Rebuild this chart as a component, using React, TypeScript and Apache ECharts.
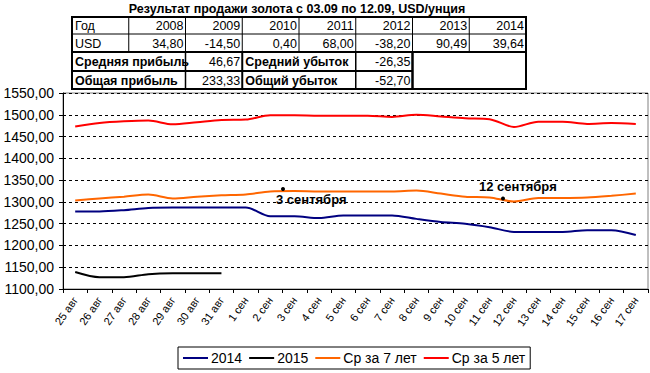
import React, { useEffect, useRef } from "react";
import * as echarts from "echarts";

const categories = [
  "25 авг", "26 авг", "27 авг", "28 авг", "29 авг", "30 авг", "31 авг",
  "1 сен", "2 сен", "3 сен", "4 сен", "5 сен", "6 сен", "7 сен", "8 сен",
  "9 сен", "10 сен", "11 сен", "12 сен", "13 сен", "14 сен", "15 сен", "16 сен", "17 сен",
];
const series2014 = [1278, 1278, 1281, 1286, 1287, 1287, 1287, 1287, 1267, 1267, 1263, 1269, 1269, 1269, 1261, 1254, 1250, 1242, 1231, 1231, 1231, 1235, 1235, 1224];
const series2015 = [1139, 1127, 1127, 1134, 1136, 1136, 1136];
const avg7 = [1303, 1308, 1312, 1317, 1308, 1312, 1315, 1317, 1324, 1325, 1324, 1324, 1324, 1324, 1326, 1319, 1312, 1310, 1301, 1309, 1309, 1310, 1314, 1319];
const avg5 = [1473, 1481, 1485, 1487, 1478, 1483, 1488, 1489, 1499, 1499, 1498, 1498, 1498, 1495, 1500, 1496, 1492, 1490, 1472, 1484, 1484, 1479, 1481, 1479];

const seriesNames = ["2014", "2015", "Ср за 7 лет", "Ср за 5 лет"];
const seriesColors = ["#000080", "#000000", "#FF6600", "#FF0000"];

const titleText = "Результат продажи золота с 03.09 по 12.09, USD/унция";
const tableYears = ["2008", "2009", "2010", "2011", "2012", "2013", "2014"];
const tableUsd = [34.8, -14.5, 0.4, 68.0, -38.2, 90.49, 39.64];
const profitLabels = ["Средняя прибыль", "Общая прибыль"];
const profitValues = [46.67, 233.33];
const lossLabels = ["Средний убыток", "Общий убыток"];
const lossValues = [-26.35, -52.7];
const annotations = [
  { text: "3 сентября", dot: [283, 189], label: [276, 199.5] },
  { text: "12 сентября", dot: [503, 198.5], label: [479, 186.5] },
];

const FONT = "'Liberation Sans', Arial, sans-serif";
const fmt = (v: number) => v.toFixed(2).replace(".", ",");

function buildTable(): any[] {
  const X0 = 72;
  const CW = 56.75;
  const rows = [17, 34, 52, 71, 89];
  const els: any[] = [];
  const line = (x1: number, y1: number, x2: number, y2: number, w: number) =>
    els.push({ type: "line", shape: { x1, y1, x2, y2 }, style: { stroke: "#000", lineWidth: w } });
  const txt = (s: string, x: number, y: number, align: string, bold: boolean) =>
    els.push({
      type: "text", x, y,
      style: { text: s, fill: "#000", font: `${bold ? "bold " : ""}12.5px ${FONT}`, align, verticalAlign: "middle" },
    });
  // rows 1-2
  els.push({ type: "rect", shape: { x: X0, y: rows[0], width: 8 * CW, height: rows[2] - rows[0] }, style: { fill: "none", stroke: "#000", lineWidth: 2 } });
  line(X0, rows[1], X0 + 8 * CW, rows[1], 1);
  for (let k = 1; k < 8; k++) line(X0 + k * CW, rows[0], X0 + k * CW, rows[2], 1);
  // rows 3-4
  els.push({ type: "rect", shape: { x: X0, y: rows[2], width: 6 * CW, height: rows[4] - rows[2] }, style: { fill: "none", stroke: "#000", lineWidth: 2 } });
  els.push({ type: "rect", shape: { x: X0 + 6 * CW, y: rows[2], width: 2 * CW, height: rows[4] - rows[2] }, style: { fill: "none", stroke: "#000", lineWidth: 2 } });
  line(X0, rows[3], X0 + 6 * CW, rows[3], 2);
  line(X0 + 2 * CW, rows[2], X0 + 2 * CW, rows[4], 1.5);
  line(X0 + 3 * CW, rows[2], X0 + 3 * CW, rows[4], 2);
  line(X0 + 5 * CW, rows[2], X0 + 5 * CW, rows[4], 1.5);

  const mid = (r: number) => (rows[r] + rows[r + 1]) / 2 + 0.5;
  txt("Год", X0 + 3, mid(0), "left", false);
  txt("USD", X0 + 3, mid(1), "left", false);
  tableYears.forEach((y, i) => txt(y, X0 + (i + 2) * CW - 2, mid(0), "right", false));
  tableUsd.forEach((v, i) => txt(fmt(v), X0 + (i + 2) * CW - 2, mid(1), "right", false));
  profitLabels.forEach((s, i) => txt(s, X0 + 3, mid(2 + i), "left", true));
  profitValues.forEach((v, i) => txt(fmt(v), X0 + 3 * CW - 2, mid(2 + i), "right", false));
  lossLabels.forEach((s, i) => txt(s, X0 + 3 * CW + 3, mid(2 + i), "left", true));
  lossValues.forEach((v, i) => txt(fmt(v), X0 + 6 * CW - 2, mid(2 + i), "right", false));
  return els;
}

export default function App() {
  const ref = useRef<HTMLDivElement>(null);
  useEffect(() => {
    const chart = echarts.init(ref.current!, null, { renderer: "svg" });
    const data = [series2014, series2015, avg7, avg5];
    chart.setOption({
      animation: false,
      backgroundColor: "#fff",
      textStyle: { fontFamily: FONT },
      grid: { left: 63, right: 2, top: 93, bottom: 84, show: true, borderColor: "#808080", borderWidth: 1, backgroundColor: "#fff" },
      legend: {
        data: seriesNames,
        left: 178,
        top: 347,
        orient: "horizontal",
        icon: "rect",
        itemWidth: 25,
        itemHeight: 2,
        itemGap: 7,
        padding: [4, 5, 4, 5],
        borderColor: "#000",
        borderWidth: 1,
        textStyle: { fontSize: 14, color: "#000", fontFamily: FONT, padding: [0, 0, 0, -2] },
      },
      xAxis: {
        type: "category",
        data: categories,
        boundaryGap: true,
        axisLine: { lineStyle: { color: "#000", width: 1 } },
        axisTick: { show: true, length: 4, lineStyle: { color: "#000" }, interval: 0 },
        axisLabel: { interval: 0, rotate: 55, fontSize: 11, color: "#000", margin: 9, fontFamily: FONT },
        splitLine: { show: false },
      },
      yAxis: {
        type: "value",
        min: 1100,
        max: 1550,
        interval: 50,
        axisLine: { show: true, lineStyle: { color: "#000", width: 1 } },
        axisTick: { show: true, length: 4, lineStyle: { color: "#000" } },
        axisLabel: { formatter: (v: number) => fmt(v), fontSize: 14, color: "#000", margin: 9, fontFamily: FONT },
        splitLine: { show: true, lineStyle: { color: "#000", type: [3, 3], width: 1 } },
      },
      series: seriesNames.map((name, i) => ({
        name,
        type: "line",
        data: data[i],
        smooth: 0.3,
        showSymbol: false,
        symbol: "none",
        lineStyle: { color: seriesColors[i], width: 2 },
        itemStyle: { color: seriesColors[i] },
        z: 3,
      })),
      graphic: [
        {
          type: "text", x: 297, y: 8.5,
          style: { text: titleText, fill: "#000", font: `bold 12.5px ${FONT}`, align: "center", verticalAlign: "middle" },
        },
        ...buildTable(),
        ...annotations.flatMap((a) => [
          { type: "circle", shape: { cx: a.dot[0], cy: a.dot[1], r: 2 }, style: { fill: "#000" }, z: 10 },
          {
            type: "text", x: a.label[0], y: a.label[1], z: 10,
            style: { text: a.text, fill: "#000", font: `bold 13px ${FONT}`, align: "left", verticalAlign: "middle" },
          },
        ]),
      ],
    });
    return () => chart.dispose();
  }, []);
  return <div ref={ref} style={{ position: "absolute", left: 0, top: 0, width: 650, height: 373, background: "#fff" }} />;
}
